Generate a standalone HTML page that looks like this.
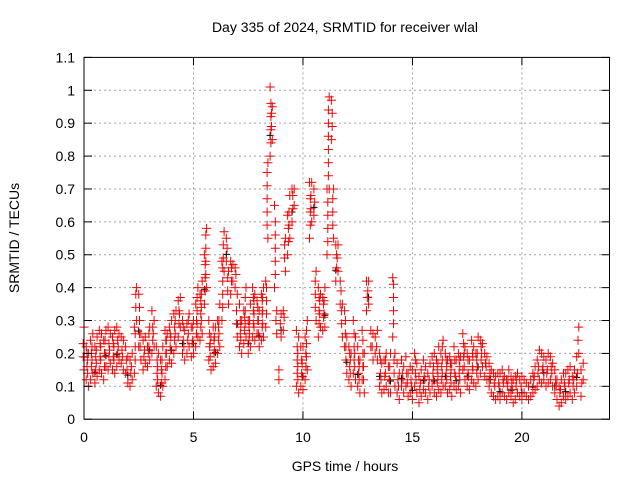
<!DOCTYPE html>
<html><head><meta charset="utf-8"><style>
body{margin:0;background:#fff}
svg{display:block;font-family:"Liberation Sans",sans-serif}
</style></head><body>
<svg id="chart" width="640" height="480" xmlns="http://www.w3.org/2000/svg">
<rect width="640" height="480" fill="#fff"/>
<text x="345" y="32" font-size="14" text-anchor="middle">Day 335 of 2024, SRMTID for receiver wlal</text>
<text x="345" y="471" font-size="14" text-anchor="middle">GPS time / hours</text>
<text transform="translate(19,238) rotate(-90)" font-size="14" text-anchor="middle">SRMTID / TECUs</text>
<g id="grid"></g>
<g id="marks"></g>
<g id="axes"></g>
</svg>
<script>
const xTicks=[0,5,10,15,20];
const yTicks=[0,0.1,0.2,0.3,0.4,0.5,0.6,0.7,0.8,0.9,1,1.1];
const yTickLabels=["0","0.1","0.2","0.3","0.4","0.5","0.6","0.7","0.8","0.9","1","1.1"];
const tStart=0, tStep=0.1;
const lo=[.15,.12,.10,.12,.14,.11,.13,.15,.14,.12,
.16,.15,.17,.15,.14,.16,.18,.17,.15,.14,
.11,.10,.12,.14,.30,.22,.18,.15,.17,.16,
.18,.20,.22,.10,.08,.07,.10,.12,.16,.18,
.17,.20,.22,.25,.28,.20,.18,.20,.22,.19,
.20,.22,.25,.24,.26,.35,.40,.18,.15,.16,
.17,.20,.22,.30,.45,.48,.35,.38,.42,.40,
.25,.22,.20,.23,.25,.20,.22,.25,.24,.26,
.22,.24,.25,.28,.55,.80,.85,.40,.26,.12,
.25,.27,.45,.50,.55,.60,.65,.10,.08,.10,
.09,.12,.15,.55,.60,.62,.30,.25,.28,.27,
.28,.50,.70,.85,.55,.42,.45,.35,.25,.22,
.14,.12,.10,.14,.12,.10,.08,.12,.08,.33,
.35,.22,.18,.20,.18,.10,.08,.09,.10,.08,
.08,.25,.10,.08,.06,.10,.08,.10,.07,.08,
.06,.10,.08,.05,.07,.09,.08,.06,.08,.10,
.08,.07,.09,.08,.10,.10,.08,.09,.07,.10,
.09,.10,.08,.15,.12,.10,.09,.12,.11,.10,
.12,.14,.16,.13,.12,.10,.08,.07,.06,.07,
.06,.08,.07,.06,.08,.07,.05,.06,.08,.07,
.06,.08,.07,.06,.07,.08,.09,.10,.12,.11,
.12,.10,.11,.12,.10,.08,.06,.04,.05,.07,
.06,.07,.08,.06,.08,.10,.20,.07,.12];
const hi=[.28,.22,.20,.24,.26,.22,.25,.27,.26,.24,
.27,.28,.26,.25,.27,.28,.26,.25,.24,.22,
.19,.18,.20,.28,.40,.38,.26,.24,.25,.22,
.28,.33,.30,.22,.20,.18,.22,.27,.26,.28,
.30,.32,.33,.36,.37,.30,.27,.29,.32,.28,
.30,.35,.40,.38,.42,.50,.58,.30,.25,.28,
.28,.30,.35,.48,.57,.55,.45,.48,.47,.46,
.38,.35,.30,.33,.40,.30,.35,.40,.38,.36,
.33,.38,.40,.42,.78,1.01,.95,.65,.33,.15,
.32,.33,.55,.62,.68,.70,.70,.27,.25,.22,
.22,.25,.30,.72,.72,.70,.45,.40,.38,.37,
.40,.70,.98,.97,.70,.53,.53,.42,.35,.33,
.25,.22,.20,.30,.25,.22,.18,.27,.20,.42,
.42,.27,.26,.25,.27,.20,.17,.18,.20,.16,
.20,.43,.20,.17,.14,.18,.16,.19,.14,.16,
.15,.20,.17,.13,.15,.18,.16,.14,.17,.19,
.20,.18,.22,.20,.24,.20,.18,.19,.17,.22,
.18,.20,.19,.26,.22,.20,.18,.24,.22,.20,
.25,.24,.23,.20,.19,.17,.15,.14,.13,.14,
.14,.15,.13,.12,.15,.13,.12,.13,.14,.12,
.13,.12,.11,.10,.12,.14,.16,.18,.21,.20,
.19,.18,.20,.19,.17,.15,.12,.10,.12,.14,
.14,.15,.16,.13,.15,.19,.28,.15,.17];

const L=84,R=609.5,T=57.4,B=419.2,XMAX=24,YMAX=1.1;
const X=v=>L+(R-L)*v/XMAX, Y=v=>B-(B-T)*v/YMAX;
const NS="http://www.w3.org/2000/svg";
function mk(tag,attrs,parent){const e=document.createElementNS(NS,tag);for(const k in attrs)e.setAttribute(k,attrs[k]);parent.appendChild(e);return e;}
const grid=document.getElementById('grid'),axes=document.getElementById('axes'),marks=document.getElementById('marks');
yTicks.forEach((v,i)=>{
  if(i>0&&i<yTicks.length-1){const g=mk('line',{x1:L,x2:R,y1:Y(v),y2:Y(v),stroke:'#a0a0a0','stroke-dasharray':'2,3'},grid);
  
  }
  const t=mk('line',{x1:L,x2:L+8,y1:Y(v),y2:Y(v),stroke:'#000'},axes);
  
  
  mk('line',{x1:R,x2:R-8,y1:Y(v),y2:Y(v),stroke:'#000'},axes);
  const lb=mk('text',{x:L-9,y:Y(v)+5,'font-size':14,'text-anchor':'end'},axes);lb.textContent=yTickLabels[i];
  
  
});
xTicks.forEach(v=>{
  if(v>0){const g=mk('line',{x1:X(v),x2:X(v),y1:T,y2:B,stroke:'#a0a0a0','stroke-dasharray':'2,3'},grid);
  
  }
  const t=mk('line',{x1:X(v),x2:X(v),y1:B,y2:B-8,stroke:'#000'},axes);
  
  
  mk('line',{x1:X(v),x2:X(v),y1:T,y2:T+8,stroke:'#000'},axes);
  const lb=mk('text',{x:X(v),y:B+23,'font-size':14,'text-anchor':'middle'},axes);lb.textContent=String(v);
  
  
});
const fr=mk('rect',{x:L,y:T,width:R-L,height:B-T,fill:'none',stroke:'#000'},axes);


let d='';
function cross(x,y){d+=`M${(x-4.5).toFixed(1)} ${y.toFixed(1)}h9M${x.toFixed(1)} ${(y-4.5).toFixed(1)}v9`;}
let dk='';
for(let i=0;i<lo.length;i++){
  const x=X(tStart+i*tStep);
  const a=Math.min(lo[i],hi[i]),b=Math.max(lo[i],hi[i]);
  cross(x,Y(a));cross(x,Y(b));
  for(let v=a+0.04;v<b-0.015;v+=0.04)cross(x+((i%2)?0.8:-0.8),Y(v));
  if(i%5===0)dk+=`M${(x-3.5).toFixed(1)} ${Y(a+0.3*(b-a)).toFixed(1)}h7M${x.toFixed(1)} ${(Y(a+0.3*(b-a))-3.5).toFixed(1)}v7`;
}
const pk=mk('path',{d:dk,stroke:'#000','stroke-width':1,fill:'none'},marks);


const p=mk('path',{d:d,stroke:'#ff0000','stroke-width':1,fill:'none'},marks);


</script>
</body></html>
